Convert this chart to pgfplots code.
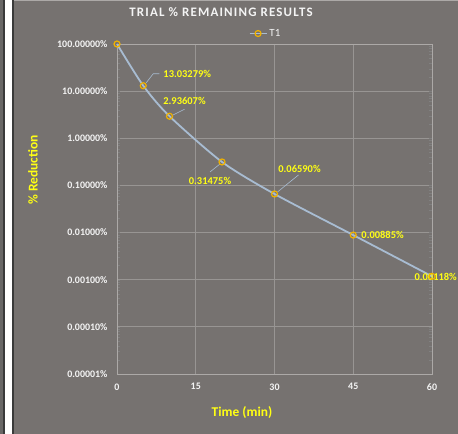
\documentclass[border=0pt]{standalone}
\usepackage{fontspec}
\setmainfont{Carlito}
\usepackage{pgfplots}
\pgfplotsset{compat=1.18}

\definecolor{chartbg}{RGB}{118,114,112}
\definecolor{edgestrip}{RGB}{105,103,102}
\definecolor{edgeline}{RGB}{58,58,58}
\definecolor{gridc}{RGB}{152,149,147}
\definecolor{axisc}{RGB}{172,169,167}
\definecolor{seriesline}{RGB}{168,188,210}
\definecolor{markc}{RGB}{240,178,0}
\definecolor{labelc}{RGB}{255,255,20}
\definecolor{tickc}{RGB}{244,244,244}

\begin{document}
\begin{tikzpicture}[x=1bp,y=1bp]
  % page and frame
  \path[use as bounding box] (0,0) rectangle (458,434);
  \fill[chartbg] (0,0) rectangle (458,434);
  \fill[edgestrip] (0,0) rectangle (3,434);
  \fill[edgeline] (3,0) rectangle (5,434);
  \fill[white] (5,0) rectangle (12,434);
  \fill[edgeline] (12,0) rectangle (14,434);
  \draw[axisc, line width=1bp] (14,433.5) -- (458,433.5);

  \begin{axis}[
    at={(117bp,60bp)}, anchor=south west,
    scale only axis, width=315bp, height=330bp,
    xmin=0, xmax=60, ymode=log, ymin=1e-5, ymax=100,
    xtick={0,15,30,45,60},
    xticklabels={0,15,30,45,60},
    ytick={1e-5,1e-4,1e-3,1e-2,1e-1,1,10,100},
    yticklabels={0.00001\%,0.00010\%,0.00100\%,0.01000\%,0.10000\%,1.00000\%,10.00000\%,100.00000\%},
    major tick length=0, minor tick num=0,
    grid=major,
    major grid style={gridc, line width=0.8bp},
    axis line style={axisc, line width=0.8bp},
    ticklabel style={font=\fontsize{10}{12}\selectfont\bfseries, text=tickc},
    xticklabel style={yshift=-6bp},
    yticklabel style={xshift=-6bp},
    legend style={at={(0.5,1)}, anchor=south, xshift=-9bp, yshift=3bp, draw=none, fill=none,
      font=\fontsize{11}{12}\selectfont, text=tickc, inner sep=1bp},
    legend image code/.code={
      \draw[#1, mark repeat=2, mark phase=2]
        plot coordinates {(0cm,0cm) (0.3cm,0cm) (0.6cm,0cm)};
    },
    legend cell align=left,
    clip=false,
  ]
    \addplot[seriesline, line width=1.8bp, smooth, tension=0.45,
      mark=o, mark size=3bp,
      mark options={draw=markc, fill=chartbg, line width=1.2bp}]
      coordinates {
        (0,100) (5,13.03279) (10,2.93607) (20,0.31475)
        (30,0.06590) (45,0.00885) (60,0.00118)
      };
    \addlegendentry{T1}

    % value labels with leader lines
    \begin{scope}[every node/.style={font=\fontsize{10.5}{12}\selectfont\bfseries, text=labelc, inner sep=0pt}]
      \draw[seriesline, line width=0.6bp] (axis cs:5,13.03279) ++(3bp,3bp) -- ++(7bp,9bp) -- ++(6bp,0bp);
      \node[anchor=west] at ([shift={(20bp,12bp)}]axis cs:5,13.03279) {13.03279\%};
      \draw[seriesline, line width=0.6bp] (axis cs:10,2.93607) ++(3bp,1bp) -- ++(12bp,6bp);
      \node at ([shift={(15bp,15bp)}]axis cs:10,2.93607) {2.93607\%};
      \draw[seriesline, line width=0.6bp] (axis cs:20,0.31475) ++(-2bp,-2bp) -- ++(-10bp,-8bp);
      \node at ([shift={(-12bp,-19bp)}]axis cs:20,0.31475) {0.31475\%};
      \draw[seriesline, line width=0.6bp] (axis cs:30,0.06590) ++(3bp,2bp) -- ++(21bp,17bp);
      \node at ([shift={(25bp,25bp)}]axis cs:30,0.06590) {0.06590\%};
      \node[anchor=west] at ([shift={(8bp,0bp)}]axis cs:45,0.00885) {0.00885\%};
      \node[anchor=east] at ([shift={(25bp,-1bp)}]axis cs:60,0.00118) {0.00118\%};
    \end{scope}
  \end{axis}

  % titles
  \node[text=tickc, font=\fontsize{13}{15}\selectfont\bfseries\addfontfeatures{LetterSpace=9}] at (221,422) {TRIAL \% REMAINING RESULTS};
  \node[text=labelc, font=\fontsize{13.5}{15}\selectfont\bfseries, rotate=90] at (33,264) {\% Reduction};
  \node[text=labelc, font=\fontsize{13.5}{15}\selectfont\bfseries] at (242,21) {Time (min)};
\end{tikzpicture}
\end{document}
